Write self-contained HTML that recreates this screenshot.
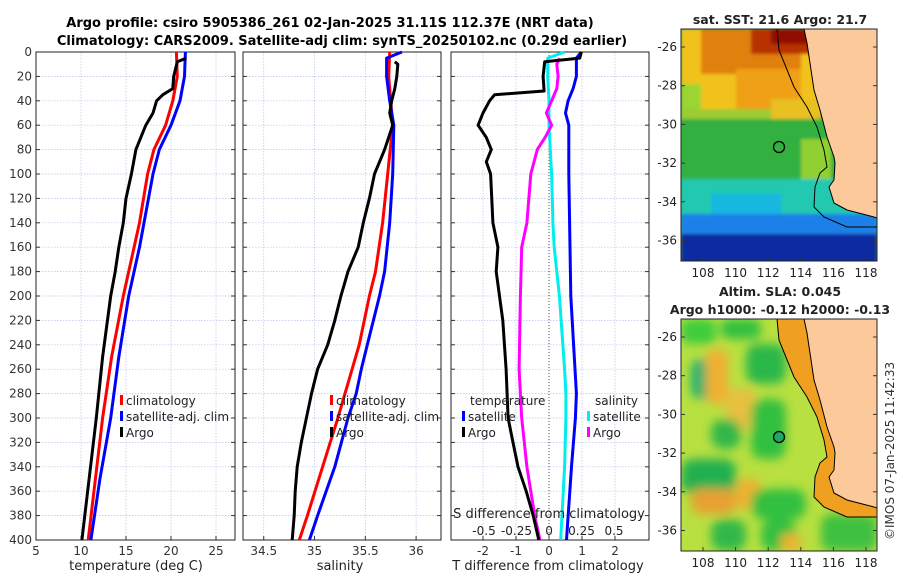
<!DOCTYPE html>
<html><head><meta charset="utf-8"><style>
body{margin:0;background:#fff}
svg{font-family:"DejaVu Sans","Liberation Sans",sans-serif}
</style></head><body>
<svg id="c" width="900" height="580" xmlns="http://www.w3.org/2000/svg">
<defs><filter id="blur" x="-10%" y="-10%" width="120%" height="120%"><feGaussianBlur stdDeviation="5"/></filter>
<filter id="blur1"><feGaussianBlur stdDeviation="1.5"/></filter>
<clipPath id="clip1"><rect x="681" y="29" width="196" height="232"/></clipPath>
<clipPath id="clip2"><rect x="681" y="319" width="196" height="232"/></clipPath></defs>
<text x="330" y="27" font-size="13" font-weight="bold" text-anchor="middle">Argo profile: csiro 5905386_261 02-Jan-2025 31.11S 112.37E (NRT data)</text>
<text x="342" y="45" font-size="13" font-weight="bold" text-anchor="middle">Climatology: CARS2009. Satellite-adj clim: synTS_20250102.nc (0.29d earlier)</text>
<g id="maps"></g>
<g id="plots"></g>
<text x="0" y="0" font-size="12" fill="#333" transform="translate(894,540) rotate(-90)">©IMOS 07-Jan-2025 11:42:33</text>
</svg>
<script>
// temperature (deg C)
const tDepth=[5,8,20,30,35,40,50,60,80,100,120,140,160,180,200,250,300,350,400];
const tArgo=[21.7,20.7,20.3,20.2,19.1,18.4,18.0,17.2,16.1,15.6,15.0,14.7,14.2,13.8,13.3,12.4,11.7,10.9,10.1];
const cDepth=[0,20,40,60,80,100,140,160,200,250,300,350,400];
const tClim=[20.6,20.7,20.2,19.4,18.1,17.4,16.5,15.9,14.7,13.4,12.4,11.6,10.8];
const tSat=[21.6,21.5,21.0,20.0,18.7,18.0,17.0,16.5,15.3,14.2,13.3,12.1,11.1];
// salinity
const sDepth=[8,10,20,30,40,50,60,70,80,100,120,140,160,180,200,220,240,260,280,300,320,340,360,380,400];
const sArgo=[35.79,35.82,35.81,35.79,35.76,35.74,35.77,35.73,35.69,35.59,35.54,35.48,35.43,35.33,35.26,35.2,35.13,35.03,34.97,34.92,34.87,34.83,34.81,34.8,34.78];
const scDepth=[0,20,60,100,140,180,200,240,280,300,340,380,400];
const sClim=[35.74,35.73,35.77,35.72,35.67,35.6,35.54,35.44,35.3,35.23,35.08,34.93,34.85];
const ssDepth=[0,5,20,40,60,100,140,180,200,220,240,260,280,300,340,380,400];
const sSat=[35.86,35.71,35.71,35.74,35.78,35.77,35.74,35.69,35.64,35.58,35.52,35.46,35.41,35.33,35.2,35.03,34.95];
// differences
const dDepth=[0,5,8,20,32,35,40,50,60,70,80,90,100,140,160,180,220,260,300,320,340,360,380,400];
const dTArgo=[0.98,0.93,-0.13,-0.18,-0.15,-1.65,-1.8,-2.0,-2.15,-1.9,-1.75,-1.9,-1.77,-1.7,-1.55,-1.6,-1.4,-1.3,-1.24,-1.09,-0.94,-0.69,-0.48,-0.31];
const dTsDepth=[0,5,20,30,40,50,60,100,200,280,300,340,400];
const dTSat=[0.98,0.83,0.83,0.73,0.58,0.5,0.6,0.6,0.66,0.83,0.8,0.68,0.53];
const dSsDepth=[0,5,20,40,60,100,140,160,200,260,280,300,340,400];
const dSSat=[0.12,-0.01,-0.01,0,0,0.02,0.03,0.04,0.08,0.12,0.13,0.13,0.12,0.09];
const dSaDepth=[5,10,20,30,40,50,60,70,80,100,140,160,200,260,300,340,380,400];
const dSArgo=[0.08,0.06,0.07,0.06,0.02,-0.02,0.02,-0.03,-0.09,-0.14,-0.17,-0.21,-0.22,-0.23,-0.21,-0.17,-0.11,-0.07];
const yTicks=[0,20,40,60,80,100,120,140,160,180,200,220,240,260,280,300,320,340,360,380,400];

const NS="http://www.w3.org/2000/svg";
const P=document.getElementById('plots');
function el(t,a,p){const e=document.createElementNS(NS,t);for(const k in a)e.setAttribute(k,a[k]);(p||P).appendChild(e);return e;}
const Y0=52,Y1=540;
const yS=d=>Y0+(Y1-Y0)*d/400;
function panel(name,x0,x1,xmin,xmax,xt,xl,ylab){
  const xS=v=>x0+(x1-x0)*(v-xmin)/(xmax-xmin);
  const g=el('g',{});
  
  
  yTicks.forEach(t=>{el('line',{x1:x0,x2:x1,y1:yS(t),y2:yS(t),stroke:'#b8c4e8','stroke-width':0.7,'stroke-dasharray':'1.5,1.5'},g);
    if(ylab){const tx=el('text',{x:x0-4,y:yS(t)+4,'font-size':12,'text-anchor':'end',fill:'#333'},g);tx.textContent=t;}
    el('line',{x1:x0,x2:x0+4,y1:yS(t),y2:yS(t),stroke:'#333'},g);el('line',{x1:x1-4,x2:x1,y1:yS(t),y2:yS(t),stroke:'#333'},g);});
  xt.forEach((t,i)=>{el('line',{x1:xS(t),x2:xS(t),y1:Y0,y2:Y1,stroke:'#b8c4e8','stroke-width':0.7,'stroke-dasharray':'1.5,1.5'},g);
    el('line',{x1:xS(t),x2:xS(t),y1:Y1-4,y2:Y1,stroke:'#333'},g);
    if(xl){const tx=el('text',{x:xS(t),y:Y1+15,'font-size':12,'text-anchor':'middle',fill:'#333'},g);tx.textContent=xl[i];}});
  el('rect',{x:x0,y:Y0,width:x1-x0,height:Y1-Y0,fill:'none',stroke:'#222','stroke-width':1},g);
  return {g,xS};
}
function line(g,xS,xs,ds,col,name,w){
  const pts=xs.map((v,i)=>xS(v).toFixed(1)+','+yS(ds[i]).toFixed(1)).join(' ');
  const l=el('polyline',{points:pts,fill:'none',stroke:col,'stroke-width':w||3,'stroke-linejoin':'round'},g);
  
  
}
function txt(g,x,y,s,name,anchor,size){const t=el('text',{x,y,'font-size':size||12,'text-anchor':anchor||'start',fill:'#222'},g);t.textContent=s;return t;}
function leg(g,x,y,col,s,name){const r=el('rect',{x,y:y-10,width:3,height:10,fill:col},g);txt(g,x+6,y,s,name);}

// panel 1
let p=panel('temperature-panel',36,235,5,27.11,[5,10,15,20,25],['5','10','15','20','25'],true);
line(p.g,p.xS,tClim,cDepth,'#f00','temp-climatology-line');
line(p.g,p.xS,tSat,cDepth,'#00f','temp-satellite-line');
line(p.g,p.xS,tArgo,tDepth,'#000','temp-argo-line');
txt(p.g,136,570,'temperature (deg C)','x-axis-title','middle',13);
leg(p.g,120,405,'#f00','climatology','legend-climatology');
leg(p.g,120,421,'#00f','satellite-adj. clim','legend-satellite');
leg(p.g,120,437,'#000','Argo','legend-argo');

// panel 2
p=panel('salinity-panel',243,441,34.296,36.245,[34.5,35,35.5,36],['34.5','35','35.5','36'],false);
line(p.g,p.xS,sClim,scDepth,'#f00','sal-climatology-line');
line(p.g,p.xS,sSat,ssDepth,'#00f','sal-satellite-line');
line(p.g,p.xS,sArgo,sDepth,'#000','sal-argo-line');
txt(p.g,340,570,'salinity','x-axis-title','middle',13);
leg(p.g,330,405,'#f00','climatology','legend-climatology');
leg(p.g,330,421,'#00f','satellite-adj. clim','legend-satellite');
leg(p.g,330,437,'#000','Argo','legend-argo');

// panel 3
p=panel('difference-panel',451,649,-2.97,3.03,[-2,-1,0,1,2],['-2','-1','0','1','2'],false);
const sS=v=>p.xS(0)+130*v;
el('line',{x1:p.xS(0),x2:p.xS(0),y1:Y0,y2:Y1,stroke:'#555','stroke-dasharray':'1,2'},p.g);
line(p.g,sS,dSSat,dSsDepth,'#0ee','sal-diff-satellite-line');
line(p.g,sS,dSArgo,dSaDepth,'#f0f','sal-diff-argo-line');
line(p.g,p.xS,dTSat,dTsDepth,'#00f','temp-diff-satellite-line');
line(p.g,p.xS,dTArgo,dDepth,'#000','temp-diff-argo-line');
txt(p.g,548,570,'T difference from climatology','x-axis-title','middle',13);
txt(p.g,549,518,'S difference from climatology','s-axis-title','middle',13);
[-0.5,-0.25,0,0.25,0.5].forEach(v=>txt(p.g,sS(v),535,String(v),'s-tick-label','middle',12));
txt(p.g,470,405,'temperature','legend-title-temperature');
txt(p.g,595,405,'salinity','legend-title-salinity');
leg(p.g,462,421,'#00f','satellite','legend-temp-satellite');
leg(p.g,462,437,'#000','Argo','legend-temp-argo');
leg(p.g,587,421,'#0ee','satellite','legend-sal-satellite');
leg(p.g,587,437,'#f0f','Argo','legend-sal-argo');

// maps
const M=document.getElementById('maps');
const coastPts=[[96,0],[98,21],[113,58],[126,78],[136,98],[143,121],[146,138],[139,144],[134,158],[133,178],[143,188],[166,198],[196,198]];
const landPts=[[123,0],[126,14],[133,61],[139,81],[146,108],[153,128],[154,134],[153,151],[148,158],[153,174],[166,181],[193,188],[196,189]];
function pathOf(pts,x0,y0){return pts.map((q,i)=>(i?'L':'M')+(x0+q[0])+','+(y0+q[1])).join(' ');}
function map(name,top,title,title2,blocks,blurId,shelf){
  const g=el('g',{},M);
  
  
  const x0=681,x1=877,y0=top,y1=top+232;
  const inner=el('g',{'clip-path':`url(#${top<100?'clip1':'clip2'})`},g);
  el('rect',{x:x0,y:y0,width:196,height:232,fill:blocks[0]},inner);
  const bg=el('g',{filter:`url(#${blurId})`},inner);
  blocks.slice(1).forEach(b=>el('rect',{x:x0+b[0],y:y0+b[1],width:b[2],height:b[3],fill:b[4],rx:b[5]||0},bg));
  if(shelf)el('path',{d:pathOf(coastPts,x0,y0)+` L${x1},${y0} Z`,fill:shelf},inner);
  el('path',{d:pathOf(landPts,x0,y0)+` L${x1},${y0} Z`,fill:'#fbc99a',stroke:'#000','stroke-width':1},inner);
  el('path',{d:pathOf(coastPts,x0,y0),fill:'none',stroke:'#000','stroke-width':1},inner);
  el('circle',{cx:x0+98,cy:y0+118,r:5.5,fill:top<100?'none':'#1fa860',stroke:'#000','stroke-width':1.3},g);
  el('rect',{x:x0,y:y0,width:196,height:232,fill:'none',stroke:'#222'},g);
  [-26,-28,-30,-32,-34,-36].forEach((d,i)=>{const yy=y0+18+i*38.7;txt(g,x0-4,yy+4,String(d),'lat-tick-label','end',12);el('line',{x1:x0,x2:x0+4,y1:yy,y2:yy,stroke:'#333'},g);el('line',{x1:x1-4,x2:x1,y1:yy,y2:yy,stroke:'#333'},g);});
  [108,110,112,114,116,118].forEach((l,i)=>{const xx=703+i*32.6;txt(g,xx,y1+16,String(l),'lon-tick-label','middle',12);el('line',{x1:xx,x2:xx,y1:y1-4,y2:y1,stroke:'#333'},g);});
  txt(g,780,top-5,title,'map-title','middle',12.5).setAttribute('font-weight','bold');
  if(title2)txt(g,780,top-23,title2,'map-title','middle',12.5).setAttribute('font-weight','bold');
}
map('sst-map',29,'sat. SST: 21.6 Argo: 21.7',null,['#2cb848',
 [0,0,196,85,'#f2c21a'],[20,0,100,45,'#e0800e'],[70,0,60,25,'#b83000'],[90,0,40,15,'#901000'],[55,40,65,55,'#f0a014'],[0,55,20,30,'#9cd430'],[0,80,110,20,'#9ccc30'],[90,70,50,60,'#e8c020'],
 [0,90,196,60,'#30b040'],[120,110,30,40,'#90d030'],[0,150,196,50,'#20c8b0'],[30,165,70,30,'#18b8e0'],[0,185,196,25,'#1e80e8'],[0,205,196,30,'#0a2aa0']],'blur1',null);
map('sla-map',319,'Argo h1000: -0.12 h2000: -0.13','Altim. SLA: 0.045',['#b8e040',
 [0,0,35,25,'#3ccc3c',8],[40,0,40,20,'#30c040',8],[10,40,25,40,'#20b070',10],[65,25,40,40,'#2cb848',12],[25,30,22,55,'#f0b030',8],[45,70,30,40,'#e8c040',8],
 [70,80,35,60,'#30c040',12],[30,100,30,30,'#30b848',12],[0,140,55,35,'#22b050',12],[10,170,45,25,'#e8a030',10],[55,160,25,30,'#f0b030',8],
 [70,170,55,30,'#30c040',12],[30,200,35,32,'#30b848',12],[80,200,35,32,'#30c040',12],[100,215,20,17,'#f0b030',5],[140,195,56,37,'#40c040',10]],'blur','#f0a020');
</script>
</body></html>
